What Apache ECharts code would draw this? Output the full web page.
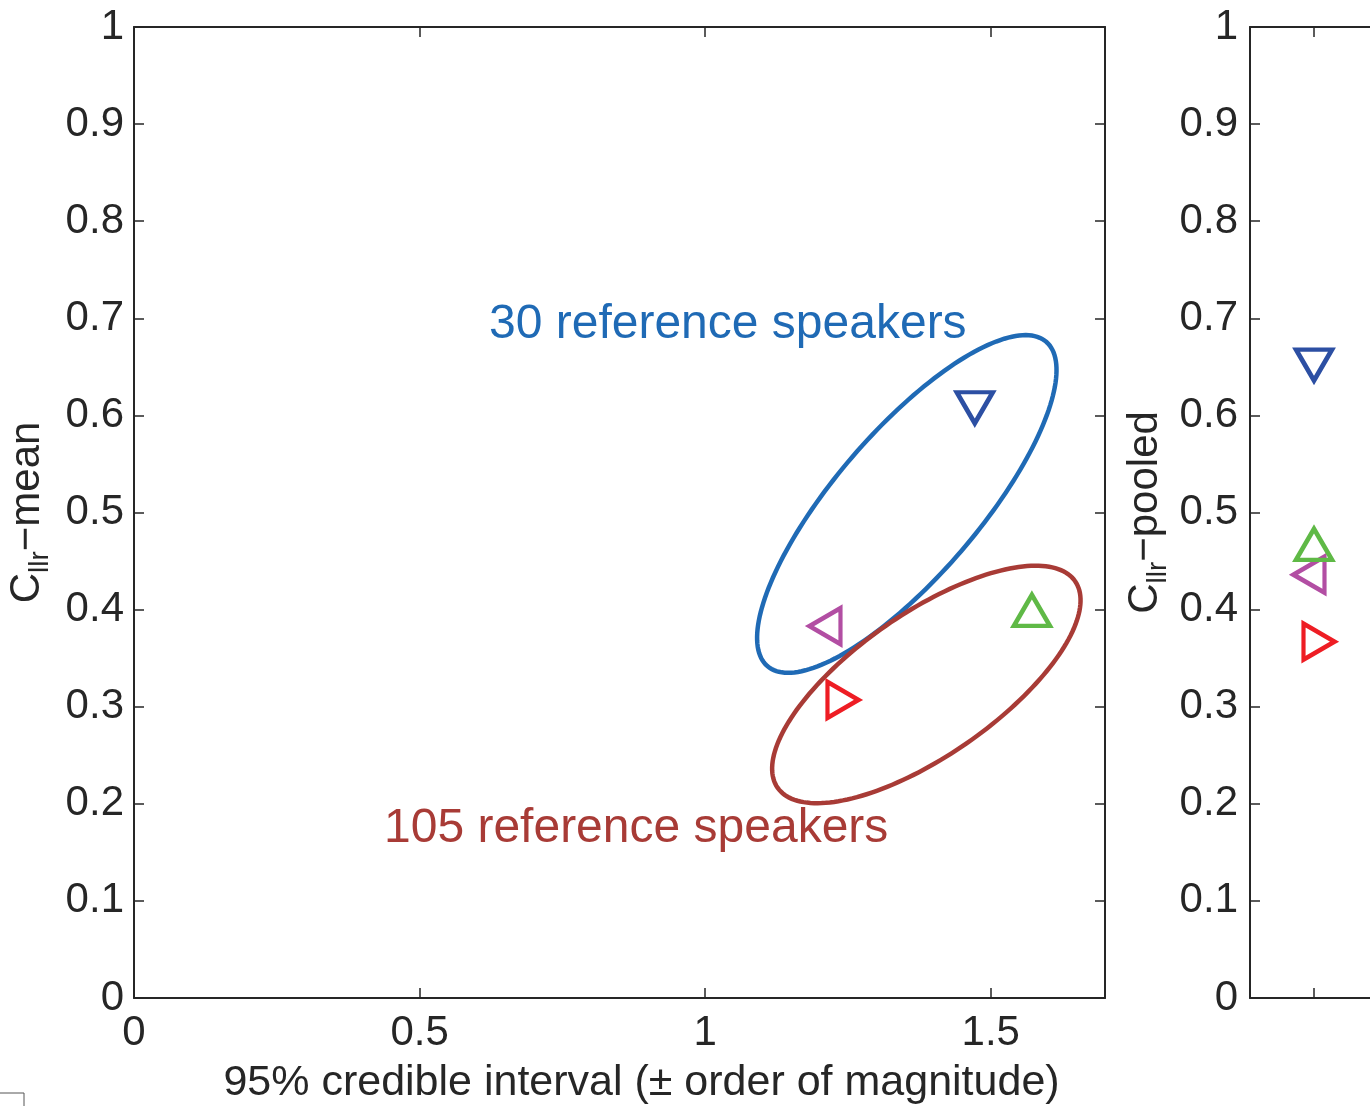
<!DOCTYPE html>
<html>
<head>
<meta charset="utf-8">
<script src="https://cdn.jsdelivr.net/npm/echarts@6/dist/echarts.min.js"></script>
<style>html,body{margin:0;padding:0;background:#fff;}#c{width:1370px;height:1106px;}</style>
</head>
<body>
<div id="c"></div>
<script>
// ---- data ----
var seriesNames = ['A', 'B', 'C', 'D'];
var meanX = [1.472, 1.2185, 1.572, 1.2325];      // 95% credible interval
var meanY = [0.613, 0.383, 0.394, 0.307];        // Cllr-mean
var pooledX = [1, 1, 1, 1];
var pooledY = [0.657, 0.436, 0.462, 0.367];      // Cllr-pooled
var yTickLabels = ['0', '0.1', '0.2', '0.3', '0.4', '0.5', '0.6', '0.7', '0.8', '0.9', '1'];
var xTickLabels = ['0', '0.5', '1', '1.5'];
// ellipses: [centerX, centerY, axis1X, axis1Y, axis2X, axis2Y] in data units
var ellipse30 = [1.353, 0.5088, 0.2441, 0.1670, -0.0955, 0.0484];
var ellipse105 = [1.3872, 0.3229, 0.2605, 0.1063, -0.0710, 0.0604];
var ellipseLabels = ['30 reference speakers', '105 reference speakers'];

// ---- styles ----
var FONT = '"Liberation Sans", Arial, Helvetica, sans-serif';
var AX = '#262626';
var markerColors = ['#2c4fa3', '#b24ea3', '#5fb946', '#ee1d24'];
var markerRot = [180, 90, 0, -90];
var markerOff = [[0, 5], [-5, 0], [0, -5], [5, 0]];
var ellipseColors = ['#1f6ab5', '#a83b36'];

function fmtY(v) {
  var i = Math.round(v * 10);
  return yTickLabels[i] !== undefined ? yTickLabels[i] : '';
}
function fmtX(v) {
  var i = Math.round(v * 2);
  return xTickLabels[i] !== undefined ? xTickLabels[i] : '';
}

var tickStyle = { show: true, inside: true, length: 10, lineStyle: { color: AX, width: 1.5 } };
var lineStyle = { show: true, onZero: false, lineStyle: { color: AX, width: 2 } };
var labelStyle = { color: AX, fontSize: 42, fontFamily: FONT };

function yName(sub, rest) {
  return {
    name: '{a|C}{s|' + sub + '}{a|' + rest + '}',
    nameLocation: 'middle',
    nameRotate: 90,
    nameTextStyle: {
      rich: {
        a: { fontSize: 42, fontFamily: FONT, color: AX, lineHeight: 48, verticalAlign: 'top' },
        s: { fontSize: 28, fontFamily: FONT, color: AX, lineHeight: 48, verticalAlign: 'bottom', padding: [14, 0, 0, 0] }
      }
    }
  };
}

var yLeft = Object.assign({
  type: 'value', gridIndex: 0, min: 0, max: 1, interval: 0.1, position: 'left',
  axisLine: lineStyle, axisTick: tickStyle, splitLine: { show: false },
  axisLabel: Object.assign({ margin: 10, formatter: fmtY }, labelStyle),
  nameGap: 70
}, yName('llr', '\u2212mean'));

var yRight2 = Object.assign({
  type: 'value', gridIndex: 1, min: 0, max: 1, interval: 0.1, position: 'left',
  axisLine: lineStyle, axisTick: tickStyle, splitLine: { show: false },
  axisLabel: Object.assign({ margin: 12, formatter: fmtY }, labelStyle),
  nameGap: 78
}, yName('llr', '\u2212pooled'));

function ellipseSeries(params, color) {
  return {
    type: 'custom',
    xAxisIndex: 0, yAxisIndex: 0,
    silent: true,
    data: [params],
    renderItem: function (p, api) {
      var cx = api.value(0), cy = api.value(1);
      var ax = api.value(2), ay = api.value(3), bx = api.value(4), by = api.value(5);
      var pts = [];
      for (var k = 0; k < 180; k++) {
        var t = k / 180 * Math.PI * 2;
        var c = Math.cos(t), s = Math.sin(t);
        pts.push(api.coord([cx + ax * c + bx * s, cy + ay * c + by * s]));
      }
      return { type: 'polygon', shape: { points: pts }, style: { fill: null, stroke: color, lineWidth: 4.5 } };
    },
    z: 2
  };
}

var series = [ellipseSeries(ellipse30, ellipseColors[0]), ellipseSeries(ellipse105, ellipseColors[1])];
for (var i = 0; i < 4; i++) {
  series.push({
    type: 'scatter', name: seriesNames[i], xAxisIndex: 0, yAxisIndex: 0,
    data: [[meanX[i], meanY[i]]],
    symbol: 'triangle', symbolSize: [36, 31], symbolRotate: markerRot[i], symbolOffset: markerOff[i],
    itemStyle: { color: 'rgba(0,0,0,0)', borderColor: markerColors[i], borderWidth: 4.5, opacity: 1 },
    z: 3
  });
  series.push({
    type: 'scatter', name: seriesNames[i] + '2', xAxisIndex: 2, yAxisIndex: 2,
    data: [[pooledX[i], pooledY[i]]],
    symbol: 'triangle', symbolSize: [36, 31], symbolRotate: markerRot[i], symbolOffset: markerOff[i],
    itemStyle: { color: 'rgba(0,0,0,0)', borderColor: markerColors[i], borderWidth: 4.5, opacity: 1 },
    z: 3
  });
}

var option = {
  backgroundColor: '#fff',
  animation: false,
  grid: [
    { left: 134, top: 27, width: 971, height: 971, containLabel: false, outerBoundsMode: 'none' },
    { left: 1250, top: 27, width: 320, height: 971, containLabel: false, outerBoundsMode: 'none' }
  ],
  xAxis: [
    {
      type: 'value', gridIndex: 0, min: 0, max: 1.7, interval: 0.5, position: 'bottom',
      axisLine: lineStyle, axisTick: tickStyle, splitLine: { show: false },
      axisLabel: Object.assign({ margin: 14, formatter: fmtX, showMaxLabel: false }, labelStyle),
      name: '95% credible interval (\u00b1 order of magnitude)', nameLocation: 'middle', nameGap: 64,
      nameTextStyle: { fontSize: 43, fontFamily: FONT, color: AX, padding: [0, 0, 0, 44] }
    },
    {
      type: 'value', gridIndex: 0, min: 0, max: 1.7, interval: 0.5, position: 'top',
      axisLine: lineStyle, axisTick: tickStyle, splitLine: { show: false }, axisLabel: { show: false }
    },
    {
      type: 'value', gridIndex: 1, min: 0, max: 5, interval: 1, position: 'bottom',
      axisLine: lineStyle, axisTick: tickStyle, splitLine: { show: false }, axisLabel: { show: false }
    },
    {
      type: 'value', gridIndex: 1, min: 0, max: 5, interval: 1, position: 'top',
      axisLine: lineStyle, axisTick: tickStyle, splitLine: { show: false }, axisLabel: { show: false }
    }
  ],
  yAxis: [
    yLeft,
    {
      type: 'value', gridIndex: 0, min: 0, max: 1, interval: 0.1, position: 'right',
      axisLine: lineStyle, axisTick: tickStyle, splitLine: { show: false }, axisLabel: { show: false }
    },
    yRight2,
    {
      type: 'value', gridIndex: 1, min: 0, max: 1, interval: 0.1, position: 'right',
      axisLine: lineStyle, axisTick: tickStyle, splitLine: { show: false }, axisLabel: { show: false }
    }
  ],
  graphic: [
    { type: 'text', left: 489, top: 301, style: { text: ellipseLabels[0], fontSize: 48, fontFamily: FONT, fill: ellipseColors[0] } },
    { type: 'text', left: 384, top: 805, style: { text: ellipseLabels[1], fontSize: 48, fontFamily: FONT, fill: ellipseColors[1] } },
    { type: 'polyline', shape: { points: [[0, 1093], [24, 1093], [24, 1106]] }, style: { stroke: '#555', lineWidth: 1, fill: null } }
  ],
  series: series
};

var chart = echarts.init(document.getElementById('c'), null, { renderer: 'canvas' });
chart.setOption(option);
</script>
</body>
</html>
